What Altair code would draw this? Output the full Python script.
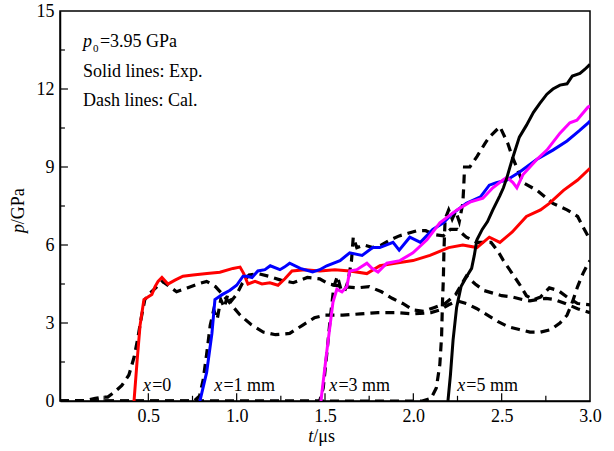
import altair as alt
import pandas as pd

# ---------------- data (t in microseconds, p in GPa) ----------------
# Experimental (solid)
exp0_t = [0.419, 0.436, 0.453, 0.475, 0.498, 0.52, 0.538, 0.555, 0.577, 0.611, 0.651, 0.696, 0.753, 0.832, 0.905,
          0.979, 1.019, 1.04, 1.064, 1.104, 1.143, 1.188, 1.234, 1.273, 1.313, 1.387, 1.471, 1.556, 1.641, 1.737,
          1.811, 1.896, 1.998, 2.094, 2.2, 2.28, 2.36, 2.43, 2.49, 2.56, 2.64, 2.72, 2.77, 2.85, 2.93, 3.0]
exp0_p = [0.0, 1.5, 2.9, 3.9, 4.0, 4.1, 4.4, 4.6, 4.75, 4.5, 4.65, 4.8, 4.85, 4.9, 4.95,
          5.1, 5.15, 4.9, 4.5, 4.6, 4.5, 4.55, 4.45, 4.7, 5.0, 5.05, 5.0, 5.05, 5.0, 4.9,
          5.2, 5.3, 5.4, 5.6, 5.9, 6.0, 5.9, 6.3, 6.1, 6.5, 7.1, 7.35, 7.6, 8.1, 8.5, 8.95]

exp1_t = [0.792, 0.83, 0.86, 0.877, 0.92, 0.96, 1.0, 1.036, 1.06, 1.087, 1.12, 1.16, 1.19, 1.245, 1.27, 1.30,
          1.36, 1.43, 1.47, 1.51, 1.585, 1.64, 1.71, 1.77, 1.81, 1.885, 1.92, 1.98, 2.04, 2.11, 2.17, 2.22,
          2.30, 2.38, 2.43, 2.47, 2.53, 2.60, 2.70, 2.79, 2.87, 2.94, 2.99, 3.0]
exp1_p = [0.0, 1.1, 2.6, 3.9, 4.1, 4.25, 4.45, 4.8, 4.8, 4.75, 5.0, 5.05, 5.2, 5.05, 5.15, 5.3,
          5.1, 4.96, 5.05, 5.2, 5.4, 5.7, 5.6, 5.9, 5.9, 6.1, 5.8, 6.3, 6.1, 6.6, 6.85, 7.2,
          7.6, 7.85, 8.3, 8.4, 8.5, 8.8, 9.3, 9.65, 10.0, 10.4, 10.7, 10.77]

exp3_t = [1.477, 1.51, 1.545, 1.567, 1.596, 1.624, 1.64, 1.68, 1.737, 1.766, 1.80, 1.85, 1.924, 1.998, 2.077,
          2.15, 2.247, 2.32, 2.394, 2.45, 2.507, 2.53, 2.564, 2.586, 2.62, 2.70, 2.756, 2.83, 2.886, 2.926,
          2.988, 3.0]
exp3_p = [0.0, 1.9, 3.8, 4.3, 4.2, 4.4, 5.0, 5.05, 5.3, 5.1, 4.96, 5.3, 5.4, 5.7, 6.2,
          6.85, 7.35, 7.65, 7.8, 8.2, 8.5, 8.6, 8.4, 8.2, 8.7, 9.3, 9.65, 10.3, 10.7, 10.8,
          11.3, 11.35]

exp5_t = [2.196, 2.21, 2.225, 2.245, 2.27, 2.30, 2.33, 2.345, 2.36, 2.39, 2.42, 2.45, 2.49, 2.51, 2.53,
          2.56, 2.60, 2.64, 2.68, 2.716, 2.756, 2.79, 2.83, 2.87, 2.90, 2.943, 2.97, 3.0]
exp5_p = [0.0, 1.0, 2.35, 3.6, 4.4, 4.77, 5.1, 5.6, 6.2, 6.6, 6.9, 7.35, 7.9, 8.2, 8.6,
          9.3, 10.15, 10.6, 11.1, 11.45, 11.8, 12.0, 12.15, 12.2, 12.5, 12.6, 12.75, 12.95]

# Calculated (dashed)
cal0_t = [0.0, 0.15, 0.2, 0.24, 0.27, 0.31, 0.35, 0.39, 0.42, 0.44, 0.46, 0.48, 0.51, 0.55, 0.58, 0.62, 0.66,
          0.72, 0.78, 0.83, 0.88, 0.92, 0.97, 1.02, 1.08, 1.15, 1.22, 1.3, 1.37, 1.44, 1.5, 1.6, 1.7, 1.8,
          1.9, 2.0, 2.1, 2.15, 2.2, 2.25, 2.3, 2.36, 2.42, 2.48, 2.54, 2.6, 2.66, 2.72, 2.78, 2.83, 2.87,
          2.9, 2.93, 2.96, 2.99, 3.0]
cal0_p = [0.0, 0.02, 0.1, 0.15, 0.15, 0.35, 0.6, 1.0, 1.7, 2.4, 3.2, 3.9, 4.15, 4.4, 4.6, 4.4, 4.2,
          4.35, 4.5, 4.6, 4.4, 4.1, 3.7, 3.3, 2.95, 2.65, 2.55, 2.6, 2.9, 3.2, 3.3, 3.3, 3.35, 3.4,
          3.4, 3.35, 3.4, 3.5, 3.7, 3.85, 3.75, 3.55, 3.3, 3.05, 2.85, 2.75, 2.65, 2.65, 2.75, 3.0, 3.3,
          3.8, 4.4, 4.9, 5.3, 5.4]

cal1_t = [0.0, 0.76, 0.79, 0.81, 0.83, 0.85, 0.87, 0.89, 0.91, 0.93, 0.95, 0.97, 1.0, 1.03, 1.07, 1.12,
          1.18, 1.25, 1.32, 1.4, 1.47, 1.52, 1.6, 1.68, 1.75, 1.82, 1.88, 1.94, 2.0, 2.06, 2.12, 2.18,
          2.24, 2.3, 2.35, 2.4, 2.45, 2.5, 2.56, 2.62, 2.66, 2.7, 2.75, 2.8, 2.86, 2.93, 3.0]
cal1_p = [0.0, 0.0, 0.2, 0.8, 1.8, 2.9, 3.5, 3.15, 3.9, 3.6, 4.1, 3.85, 4.1, 4.5, 4.85, 4.9,
          4.8, 4.65, 4.55, 4.75, 4.7, 4.5, 4.4, 4.35, 4.4, 4.2, 3.95, 3.75, 3.5, 3.45, 3.6, 3.75,
          4.1, 4.8, 4.5, 4.25, 4.15, 4.05, 4.0, 3.9, 3.85, 3.9, 3.95, 3.9, 3.75, 3.55, 3.4]

cal3_t = [0.0, 1.47, 1.49, 1.51, 1.53, 1.55, 1.57, 1.59, 1.61, 1.63, 1.65, 1.66, 1.68, 1.72, 1.77, 1.82,
          1.87, 1.92, 1.97, 2.02, 2.07, 2.12, 2.17, 2.21, 2.25, 2.3, 2.36, 2.44, 2.48, 2.51, 2.54, 2.57,
          2.6, 2.64, 2.68, 2.72, 2.77, 2.82, 2.87, 2.93, 3.0]
cal3_p = [0.0, 0.0, 0.5, 1.8, 3.2, 4.4, 4.8, 4.3, 4.2, 4.6, 5.4, 6.3, 5.9, 6.0, 5.9, 6.0,
          6.2, 6.35, 6.45, 6.55, 6.55, 6.4, 6.35, 6.6, 6.6, 6.3, 6.1, 6.1, 5.75, 5.4, 5.1, 4.8,
          4.5, 4.05, 3.9, 4.0, 4.35, 4.25, 4.0, 3.75, 3.7]

cal5_t = [0.0, 2.05, 2.1, 2.13, 2.15, 2.16, 2.165, 2.17, 2.173, 2.176, 2.18, 2.2, 2.22, 2.24, 2.26, 2.28,
          2.285, 2.29, 2.32, 2.36, 2.405, 2.43, 2.49, 2.535, 2.56, 2.62, 2.7, 2.79, 2.87, 2.93, 2.96,
          2.98, 3.0]
cal5_p = [0.0, 0.0, 0.1, 0.5, 1.4, 2.5, 3.8, 4.7, 5.7, 6.3, 7.0, 7.35, 7.0, 7.3, 6.9, 7.6,
          8.2, 9.0, 9.0, 9.4, 9.9, 10.15, 10.55, 9.9, 9.4, 8.4, 8.1, 7.6, 7.35, 7.1, 6.7,
          6.45, 6.2]

x_ticks = [0.5, 1.0, 1.5, 2.0, 2.5, 3.0]
y_ticks = [0, 3, 6, 9, 12, 15]
x_minor = [0.25, 0.75, 1.25, 1.75, 2.25, 2.75]
y_minor = [1.5, 4.5, 7.5, 10.5, 13.5]
x_major_in = [0.5, 1.0, 1.5, 2.0, 2.5]
y_major_in = [3, 6, 9, 12]

FONT = "Liberation Serif"
xs = alt.Scale(domain=[0, 3], nice=False, zero=False)
ys = alt.Scale(domain=[0, 15], nice=False)

x_axis = alt.Axis(values=x_ticks, format=".1f", title=None, grid=False, tickSize=0,
                  labelFont=FONT, labelFontSize=18, labelColor="black", labelPadding=6,
                  labelFlush=False, domainColor="black", domainWidth=1.5)
y_axis = alt.Axis(values=y_ticks, format="d", title=None, grid=False, tickSize=0,
                  labelFont=FONT, labelFontSize=18, labelColor="black", labelPadding=6,
                  domainColor="black", domainWidth=1.5)


def X(field="t"):
    return alt.X(f"{field}:Q", scale=xs, axis=x_axis)


def Y(field="p"):
    return alt.Y(f"{field}:Q", scale=ys, axis=y_axis)


def line(t, p, color, dashed=False):
    df = pd.DataFrame({"t": t, "p": p, "i": list(range(len(t)))})
    kw = dict(color=color, strokeWidth=3, clip=True)
    if dashed:
        kw["strokeDash"] = [9, 6]
        kw["strokeWidth"] = 3.2
    return alt.Chart(df).mark_line(**kw).encode(x=X(), y=Y(), order="i:Q")


layers = []
for t, p in [(cal0_t, cal0_p), (cal1_t, cal1_p), (cal3_t, cal3_p), (cal5_t, cal5_p)]:
    layers.append(line(t, p, "black", dashed=True))
layers.append(line(exp0_t, exp0_p, "#ff0000"))
layers.append(line(exp1_t, exp1_p, "#0000ff"))
layers.append(line(exp3_t, exp3_p, "#ff00ff"))
layers.append(line(exp5_t, exp5_p, "black"))

# inward ticks
xt = pd.DataFrame({"t": x_major_in + x_minor,
                   "y0": [0.0] * (len(x_major_in) + len(x_minor)),
                   "y1": [0.3] * len(x_major_in) + [0.2] * len(x_minor)})
layers.append(alt.Chart(xt).mark_rule(color="black", strokeWidth=1.2).encode(
    x=X(), y=alt.Y("y0:Q", scale=ys, axis=y_axis), y2="y1:Q"))
yt = pd.DataFrame({"p": y_major_in + y_minor,
                   "x0": [0.0] * (len(y_major_in) + len(y_minor)),
                   "x1": [0.045] * len(y_major_in) + [0.028] * len(y_minor)})
layers.append(alt.Chart(yt).mark_rule(color="black", strokeWidth=1.2).encode(
    y=Y(), x=alt.X("x0:Q", scale=xs, axis=x_axis), x2="x1:Q"))


def texts(df, size=18, italic=False, angle=None, align="left"):
    kw = dict(font=FONT, fontSize=size, color="black", align=align, baseline="middle")
    if italic:
        kw["fontStyle"] = "italic"
    if angle is not None:
        kw["angle"] = angle
    return alt.Chart(df).mark_text(**kw).encode(x=X(), y=Y(), text="s:N")


# annotation texts
roman = pd.DataFrame({
    "t": [0.226, 0.13, 0.13, 0.522, 0.925, 1.576, 2.300, 1.434],
    "p": [13.8, 12.65, 11.55, 0.58, 0.58, 0.58, 0.58, -1.4],
    "s": ["=3.95 GPa", "Solid lines: Exp.", "Dash lines: Cal.", "=0", "=1 mm", "=3 mm", "=5 mm", "/\u03bcs"],
})
ital = pd.DataFrame({
    "t": [0.13, 0.47, 0.873, 1.524, 2.248, 1.405],
    "p": [13.8, 0.58, 0.58, 0.58, 0.58, -1.4],
    "s": ["p", "x", "x", "x", "x", "t"],
})
sub = pd.DataFrame({"t": [0.187], "p": [13.55], "s": ["0"]})
ylab_i = pd.DataFrame({"t": [-0.232], "p": [6.46], "s": ["p"]})
ylab_r = pd.DataFrame({"t": [-0.232], "p": [6.8], "s": ["/GPa"]})

layers.append(texts(roman))
layers.append(texts(ital, italic=True))
layers.append(texts(sub, size=11))
layers.append(texts(ylab_i, italic=True, angle=270))
layers.append(texts(ylab_r, angle=270))

chart = alt.layer(*layers).properties(
    width=530, height=390,
    autosize=alt.AutoSizeParams(type="none"),
    padding={"left": 60, "top": 11, "right": 24, "bottom": 50},
    background="white",
).configure_view(stroke="black", strokeWidth=1.5)

chart.save("out.html", embed_options={"renderer": "svg", "actions": False})
